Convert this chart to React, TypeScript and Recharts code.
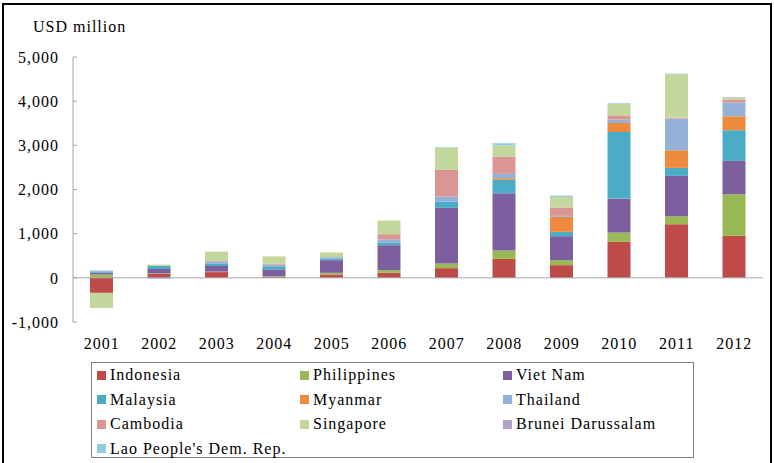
import React from 'react';
import { BarChart, Bar, XAxis, YAxis, ReferenceLine } from 'recharts';

// years on the category axis
const years = ['2001', '2002', '2003', '2004', '2005', '2006', '2007', '2008', '2009', '2010', '2011', '2012'];

// USD million per country
const indonesia = [-340, 90, 130, 20, 75, 113, 219, 430, 287, 814, 1214, 950];
const philippines = [75, 10, 10, 15, 38, 60, 106, 189, 113, 211, 181, 943];
const vietNam = [40, 100, 128, 158, 287, 566, 1260, 1297, 543, 769, 913, 754];
const malaysia = [20, 70, 60, 68, 38, 53, 143, 302, 98, 1508, 181, 694];
const myanmar = [0, 0, 0, 0, 0, 0, 0, 38, 339, 204, 400, 317];
const thailand = [30, -20, 38, 38, 30, 75, 113, 98, 23, 75, 716, 309];
const cambodia = [0, 0, 15, 20, 0, 121, 603, 392, 189, 98, 23, 68];
const singapore = [-340, 30, 212, 166, 106, 309, 498, 249, 241, 264, 980, 45];
const brunei = [0, 0, 0, 0, 0, 0, 0, 0, 0, 0, 0, 10];
const lao = [0, 0, 0, 0, 0, 0, 15, 53, 30, 15, 15, 0];

const yTicks = [-1000, 0, 1000, 2000, 3000, 4000, 5000];

const series = [
  { key: 'Indonesia', values: indonesia, color: '#BE4B48' },
  { key: 'Philippines', values: philippines, color: '#98B954' },
  { key: 'Viet Nam', values: vietNam, color: '#7D5FA0' },
  { key: 'Malaysia', values: malaysia, color: '#4AACC5' },
  { key: 'Myanmar', values: myanmar, color: '#EE8A3E' },
  { key: 'Thailand', values: thailand, color: '#94B1DA' },
  { key: 'Cambodia', values: cambodia, color: '#D99694' },
  { key: 'Singapore', values: singapore, color: '#C3D69B' },
  { key: 'Brunei Darussalam', values: brunei, color: '#B3A2C7' },
  { key: "Lao People's Dem. Rep.", values: lao, color: '#93CDDD' },
];

const data = years.map((year, i) => {
  const row: Record<string, any> = { year };
  series.forEach((s) => {
    row[s.key] = s.values[i];
  });
  return row;
});

const FONT = "'Liberation Serif', Tinos, 'Times New Roman', Times, 'DejaVu Serif', serif";
const tickStyle = { fontFamily: FONT, fontSize: 16, fill: '#000', letterSpacing: 1 };

export default function App() {
  return (
    <div style={{ position: 'absolute', left: 0, top: 0, width: 774, height: 463, background: '#fff', overflow: 'hidden' }}>
      <div
        style={{
          position: 'absolute',
          left: 2,
          top: 3,
          width: 770,
          height: 480,
          border: '2px solid #000',
          boxSizing: 'border-box',
        }}
      />
      <div
        style={{
          position: 'absolute',
          left: 33,
          top: 17,
          fontFamily: FONT,
          fontSize: 16,
          letterSpacing: 1,
          lineHeight: '20px',
          color: '#000',
        }}
      >
        USD million
      </div>

      <BarChart
        width={774}
        height={463}
        data={data}
        stackOffset="sign"
        barSize={23}
        margin={{ top: 57, right: 11, left: 0, bottom: 111 }}
        style={{ position: 'absolute', left: 0, top: 0 }}
      >
        <XAxis
          dataKey="year"
          axisLine={false}
          tickLine={false}
          interval={0}
          height={30}
          tickMargin={10}
          tick={tickStyle}
        />
        <YAxis
          width={73}
          domain={[-1000, 5000]}
          ticks={yTicks}
          interval={0}
          tickFormatter={(v: number) => v.toLocaleString('en-US')}
          tick={tickStyle}
          tickSize={-4}
          tickMargin={18}
          axisLine={{ stroke: '#a6a6a6' }}
          tickLine={{ stroke: '#a6a6a6' }}
        />
        {series.map((s) => (
          <Bar key={s.key} dataKey={s.key} stackId="a" fill={s.color} isAnimationActive={false} />
        ))}
        <ReferenceLine y={0} stroke="#a6a6a6" />
      </BarChart>

      <div
        style={{
          position: 'absolute',
          left: 91,
          top: 362,
          width: 603,
          height: 96,
          border: '1px solid #7f7f7f',
          boxSizing: 'border-box',
          display: 'grid',
          gridTemplateColumns: '203px 203px 197px',
          gridAutoRows: '24.5px',
          paddingLeft: 5,
          fontFamily: FONT,
          fontSize: 16,
          letterSpacing: 1,
          color: '#000',
        }}
      >
        {series.map((s) => (
          <div key={s.key} style={{ display: 'flex', alignItems: 'center', whiteSpace: 'nowrap' }}>
            <span style={{ display: 'inline-block', width: 9, height: 9, background: s.color, marginRight: 4 }} />
            <span>{s.key}</span>
          </div>
        ))}
      </div>
    </div>
  );
}
